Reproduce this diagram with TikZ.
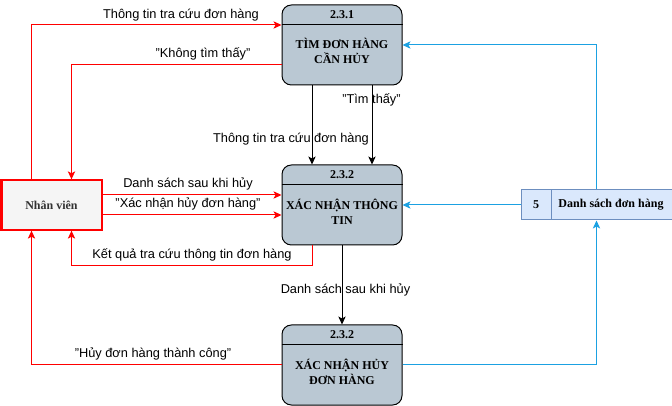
\documentclass[tikz,border=0pt]{standalone}
\usepackage{fontspec}
\setmainfont{Liberation Serif}
\setsansfont{Liberation Sans}
\usetikzlibrary{
  arrows.meta,
  positioning,
}
\definecolor{procfill}{HTML}{BAC8D3}
\definecolor{flowred}{HTML}{FF0000}
\definecolor{flowblue}{HTML}{1BA1E2}
\definecolor{storefill}{HTML}{DAE8FC}
\definecolor{storeline}{HTML}{6C8EBF}
\definecolor{staffill}{HTML}{F5F5F5}
\definecolor{stafftext}{HTML}{333333}
\tikzset{
  >={Stealth[length=6pt, width=5.5pt, inset=1.5pt]},
  process/.style={draw, fill=procfill, rounded corners=7pt, line width=0.75pt,
    minimum width=90pt, minimum height=60pt},
  boxtext/.style={align=center, font=\fontsize{9}{11}\selectfont\bfseries},
  flowtext/.style={align=center, font=\sffamily\fontsize{9.6}{11}\selectfont},
  redflow/.style={->, draw=flowred, line width=0.75pt},
  blueflow/.style={->, draw=flowblue, line width=0.75pt},
  blackflow/.style={->, draw=black, line width=0.75pt},
}

\begin{document}
\begin{tikzpicture}[x=0.75pt, y=-0.75pt]
      \useasboundingbox (0, 0) rectangle (672, 406);

      % processes
      \node [process] (find) at (342, 45) {};
      \node [process] (confirm) at (342, 205) {};
      \node [process] (cancel) at (342, 365) {};
      \draw [line width=0.75pt] ([yshift=-15pt]find.north west) -- ([yshift=-15pt]find.north east);
      \draw [line width=0.75pt] ([yshift=-15pt]confirm.north west) -- ([yshift=-15pt]confirm.north east);
      \draw [line width=0.75pt] ([yshift=-15pt]cancel.north west) -- ([yshift=-15pt]cancel.north east);
      \node [boxtext] (findnum) at (342, 15) {2.3.1};
      \node [boxtext] (findname) at (342, 51) {TÌM ĐƠN HÀNG\\CẦN HỦY};
      \node [boxtext] (confirmnum) at (342, 175) {2.3.2};
      \node [boxtext] (confirmname) at (342, 212) {XÁC NHẬN THÔNG\\TIN};
      \node [boxtext] (cancelnum) at (342, 335) {2.3.2};
      \node [boxtext] (cancelname) at (342, 372) {XÁC NHẬN HỦY\\ĐƠN HÀNG};

      % external entity and data store
      \node [draw=flowred, fill=staffill, line width=1.5pt, minimum width=75pt,
        minimum height=37pt, boxtext, text=stafftext] (staff) at (51.5, 205) {Nhân viên};
      \node [draw=storeline, fill=storefill, line width=0.75pt, minimum width=113.25pt,
        minimum height=22.5pt] (store) at (596.5, 205) {};
      \draw [draw=storeline, line width=0.75pt] ([xshift=23pt]store.north west) -- ([xshift=23pt]store.south west);
      \node [boxtext] (storenum) at (536, 205) {5};
      \node [boxtext] (storename) at (611, 205) {Danh sách đơn hàng};

      % flows
      \draw [redflow] ([xshift=-15pt]staff.north) |- ([yshift=15pt]find.west);
      \draw [redflow] ([yshift=-15pt]find.west) -| ([xshift=15pt]staff.north);
      \draw [blackflow] ([xshift=-22.5pt]find.south) -- ([xshift=-22.5pt]confirm.north);
      \draw [blackflow] ([xshift=22.5pt]find.south) -- ([xshift=22.5pt]confirm.north);
      \draw [redflow] ([yshift=7.5pt]staff.east) -- ([yshift=7.5pt]confirm.west);
      \draw [redflow] ([yshift=-7.5pt]staff.east) -- ([yshift=-7.5pt]confirm.west);
      \draw [redflow] ([xshift=-22.5pt]confirm.south) -- ++(0, 20.5) -| ([xshift=15pt]staff.south);
      \draw [blackflow] (confirm.south) -- (cancel.north);
      \draw [redflow] (cancel.west) -| ([xshift=-15pt]staff.south);
      \draw [blueflow] (cancel.east) -| (store.south);
      \draw [blueflow] (store.west) -- (confirm.east);
      \draw [blueflow] (store.north) |- (find.east);

      % flow labels
      \node [flowtext] (lblsearch) at (181, 15) {Thông tin tra cứu đơn hàng};
      \node [flowtext] (lblnotfound) at (203, 54) {"Không tìm thấy"};
      \node [flowtext] (lblinfo) at (291, 139) {Thông tin tra cứu đơn hàng};
      \node [flowtext] (lblfound) at (371.5, 100) {"Tìm thấy"};
      \node [flowtext] (lbllist) at (188, 184) {Danh sách sau khi hủy};
      \node [flowtext] (lblconfirm) at (188, 204) {"Xác nhận hủy đơn hàng"};
      \node [flowtext] (lblresult) at (192, 255) {Kết quả tra cứu thông tin đơn hàng};
      \node [flowtext] (lbllistdown) at (345.5, 290) {Danh sách sau khi hủy};
      \node [flowtext] (lbldone) at (153, 354) {"Hủy đơn hàng thành công"};
\end{tikzpicture}
\end{document}
